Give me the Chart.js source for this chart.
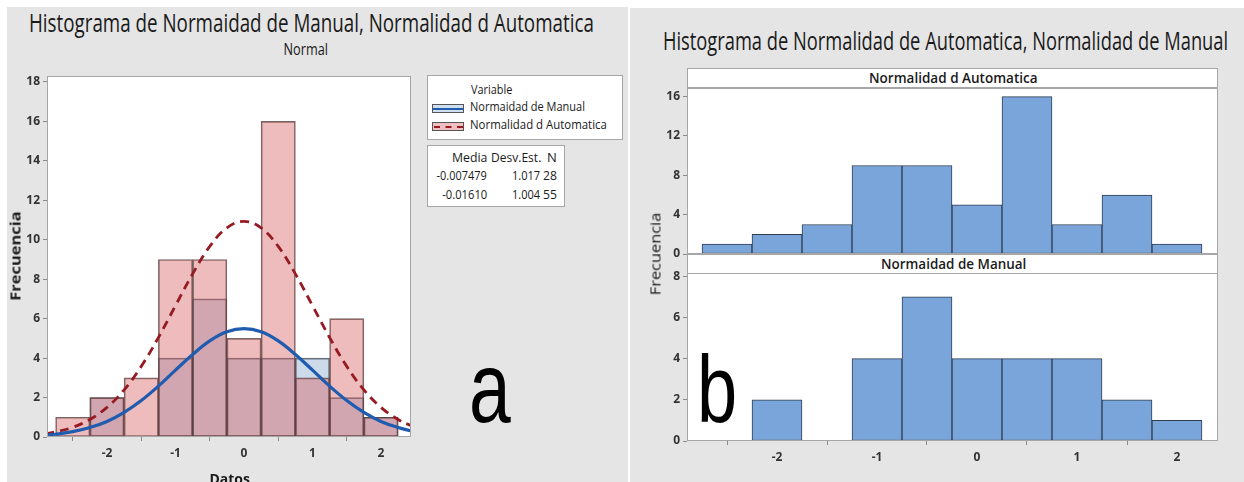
<!DOCTYPE html>
<html>
<head>
<meta charset="utf-8">
<script src="https://cdn.jsdelivr.net/npm/chart.js@4.4.1/dist/chart.umd.min.js"></script>
<style>
  html, body { margin: 0; padding: 0; }
  body { width: 1244px; height: 482px; position: relative; overflow: hidden; background: #fff; }
  .panel { position: absolute; background: #e5e5e5; }
  canvas { position: absolute; }
  .txt { position: absolute; white-space: nowrap; }
  .box { position: absolute; background: #fff; border: 1px solid #a6a6a6; box-sizing: border-box; }
  .patch { position: absolute; border: 1px solid #555; box-sizing: border-box; }
</style>
</head>
<body>
<div class="panel" style="left:7px; top:7px; width:621px; height:475px;"></div>
<div class="panel" style="left:630px; top:8px; width:614px; height:474px;"></div>

<canvas id="leftChart" width="420" height="422" style="left:0; top:60px;"></canvas>
<canvas id="autoChart" width="600" height="210" style="left:630px; top:60px;"></canvas>
<canvas id="manualChart" width="600" height="232" style="left:630px; top:250px;"></canvas>

<script>
/* ============================================
   HISTOGRAMS: NORMALIDAD MANUAL VS AUTOMATICA
   ============================================ */

// Bin centres (bins are 0.5 wide)
const binCenters = [-2.5, -2.0, -1.5, -1.0, -0.5, 0.0, 0.5, 1.0, 1.5, 2.0];
const autoCounts = [1, 2, 3, 9, 9, 5, 16, 3, 6, 1];
const manualCounts = [0, 2, 0, 4, 7, 4, 4, 4, 2, 1];

// Fitted normal curves
const curveX = [-2.9, -2.75, -2.5, -2.25, -2, -1.75, -1.5, -1.25, -1, -0.75, -0.5, -0.25, 0, 0.25, 0.5, 0.75, 1, 1.25, 1.5, 1.75, 2, 2.25, 2.45];
const manualCurve = [0.09, 0.14, 0.27, 0.48, 0.79, 1.25, 1.85, 2.58, 3.39, 4.18, 4.87, 5.33, 5.49, 5.33, 4.87, 4.18, 3.39, 2.58, 1.85, 1.25, 0.79, 0.48, 0.30];
const autoCurve = [0.17, 0.26, 0.49, 0.89, 1.50, 2.39, 3.58, 5.04, 6.66, 8.27, 9.66, 10.60, 10.93, 10.60, 9.66, 8.27, 6.66, 5.04, 3.58, 2.39, 1.50, 0.89, 0.56];

// Tick labels
const xTicks = [-2, -1, 0, 1, 2];
const leftYTicks = [0, 2, 4, 6, 8, 10, 12, 14, 16, 18];
const autoYTicks = [0, 4, 8, 12, 16];
const manualYTicks = [0, 2, 4, 6, 8];

// Legend statistics table
const statMedia = ['-0.007479', '-0.01610'];
const statSd = ['1.017', '1.004'];
const statN = ['28', '55'];

Chart.defaults.font.family = "'Open Sans', sans-serif";
Chart.defaults.animation = false;

// White plot background and grey frame round the chart area
const framePlugin = {
  id: 'frame',
  beforeDatasetsDraw(chart) {
    const a = chart.chartArea;
    chart.ctx.save();
    chart.ctx.fillStyle = '#fff';
    chart.ctx.fillRect(a.left, a.top, a.width, a.height);
    chart.ctx.restore();
  },
  afterDatasetsDraw(chart) {
    const a = chart.chartArea;
    const ctx = chart.ctx;
    ctx.save();
    ctx.strokeStyle = '#a6a6a6';
    ctx.lineWidth = 1;
    ctx.strokeRect(Math.round(a.left) + 0.5, Math.round(a.top) + 0.5, Math.round(a.width) - 1, Math.round(a.height) - 1);
    ctx.restore();
  }
};

const tickFont = { size: 12, weight: '700' };
const tickMarks = { drawOnChartArea: false, drawTicks: true, tickLength: 4, color: '#8a8a8a' };

function pts(xs, ys) {
  return xs.map((x, i) => ({ x: x, y: ys[i] }));
}

function xScale(min, max, height, show) {
  return {
    type: 'linear', min: min, max: max, offset: false, display: show,
    afterBuildTicks: s => { s.ticks = xTicks.map(v => ({ value: v })); },
    afterFit: s => { if (height) s.height = height; },
    grid: tickMarks, border: { display: false },
    ticks: { color: '#333', font: tickFont, padding: 5, maxRotation: 0 }
  };
}

function yScale(max, ticks, width) {
  return {
    min: 0, max: max,
    afterBuildTicks: s => { s.ticks = ticks.map(v => ({ value: v })); },
    afterFit: s => { s.width = width; },
    grid: tickMarks, border: { display: false },
    ticks: { color: '#333', font: tickFont, padding: 3 }
  };
}

function barSet(label, counts, fill, border, order) {
  return {
    type: 'bar', label: label, data: pts(binCenters, counts),
    backgroundColor: fill, borderColor: border, borderWidth: 1, borderSkipped: false,
    grouped: false, barPercentage: 1, categoryPercentage: 1, order: order
  };
}

// a) overlaid histograms with normal fits
new Chart(document.getElementById('leftChart'), {
  type: 'bar',
  data: {
    datasets: [
      barSet('Normaidad de Manual', manualCounts, 'rgba(100,140,190,0.32)', 'rgba(70,70,80,0.8)', 4),
      barSet('Normalidad d Automatica', autoCounts, 'rgba(215,95,95,0.42)', 'rgba(80,65,65,0.8)', 3),
      {
        type: 'line', label: 'Normaidad de Manual', data: pts(curveX, manualCurve),
        borderColor: '#1f5cb0', borderWidth: 3.2, pointRadius: 0, tension: 0.4, order: 1
      },
      {
        type: 'line', label: 'Normalidad d Automatica', data: pts(curveX, autoCurve),
        borderColor: '#961a22', borderWidth: 2.8, borderDash: [9, 6], pointRadius: 0, tension: 0.4, order: 2
      }
    ]
  },
  options: {
    responsive: false,
    layout: { padding: { left: 0, right: 9, top: 16, bottom: 0 } },
    plugins: { legend: { display: false }, tooltip: { enabled: false } },
    scales: {
      x: xScale(-2.876, 2.438, 45, true),
      y: yScale(18.3, leftYTicks, 47)
    }
  },
  plugins: [framePlugin]
});

// b) panel histograms
new Chart(document.getElementById('autoChart'), {
  type: 'bar',
  data: { datasets: [barSet('Normalidad d Automatica', autoCounts, '#7aa5da', '#2f3d4f', 1)] },
  options: {
    responsive: false,
    layout: { padding: { left: 0, right: 12, top: 28, bottom: 16 } },
    plugins: { legend: { display: false }, tooltip: { enabled: false } },
    scales: { x: xScale(-2.90, 2.41, 0, false), y: yScale(16.88, autoYTicks, 57) }
  },
  plugins: [framePlugin]
});

new Chart(document.getElementById('manualChart'), {
  type: 'bar',
  data: { datasets: [barSet('Normaidad de Manual', manualCounts, '#7aa5da', '#2f3d4f', 1)] },
  options: {
    responsive: false,
    layout: { padding: { left: 0, right: 12, top: 23, bottom: 0 } },
    plugins: { legend: { display: false }, tooltip: { enabled: false } },
    scales: { x: xScale(-2.90, 2.41, 41, true), y: yScale(8.15, manualYTicks, 57) }
  },
  plugins: [framePlugin]
});

// Text helpers (squeezed horizontally to the reference widths)
function addText(txt, o) {
  const d = document.createElement('div');
  d.className = 'txt';
  d.textContent = txt;
  d.style.font = `${o.weight || 400} ${o.fs}px ${o.family || "'Open Sans', sans-serif"}`;
  d.style.lineHeight = o.fs + 'px';
  d.style.color = o.color || '#1a1a1a';
  document.body.appendChild(d);
  const w = d.offsetWidth;
  const k = o.w ? o.w / w : (o.sx || 1);
  let left = o.x;
  if (o.align === 'center') left = o.x - w / 2;
  if (o.align === 'right') left = o.x - w;
  d.style.left = left + 'px';
  d.style.top = (o.base - (o.asc || 0.888) * o.fs) + 'px';
  d.style.transformOrigin = o.align === 'center' ? '50% 50%' : (o.align === 'right' ? '100% 50%' : '0 50%');
  d.style.transform = `scaleX(${k})`;
  return d;
}

function addVText(txt, o) {
  const d = document.createElement('div');
  d.className = 'txt';
  d.textContent = txt;
  d.style.font = `${o.weight || 400} ${o.fs}px 'Open Sans', sans-serif`;
  d.style.lineHeight = o.fs + 'px';
  d.style.color = '#1a1a1a';
  document.body.appendChild(d);
  const k = o.len / d.offsetWidth;
  d.style.left = o.cx + 'px';
  d.style.top = o.cy + 'px';
  d.style.transform = `translate(-50%, -50%) rotate(-90deg) scaleX(${k})`;
}

function addBox(cls, x, y, w, h, extra) {
  const d = document.createElement('div');
  d.className = cls;
  d.style.cssText += `left:${x}px; top:${y}px; width:${w}px; height:${h}px;` + (extra || '');
  document.body.appendChild(d);
  return d;
}

// Titles
addText('Histograma de Normaidad de Manual, Normalidad d Automatica', { x: 29, base: 32, fs: 25, w: 565 });
addText('Normal', { x: 305, base: 55, fs: 17, w: 44, align: 'center' });
addText('Histograma de Normalidad de Automatica, Normalidad de Manual', { x: 663, base: 50, fs: 25, w: 565 });

// Axis titles
addText('Datos', { x: 229, base: 484, fs: 15, weight: 700, w: 40, align: 'center' });
addVText('Frecuencia', { cx: 15, cy: 256, fs: 15, weight: 700, len: 90 });
addVText('Frecuencia', { cx: 655, cy: 254, fs: 15, weight: 400, len: 83 });

// Panel strips on the right
addBox('box', 687, 68, 531, 20);
addText('Normalidad d Automatica', { x: 953, base: 83, fs: 14, weight: 600, w: 169, align: 'center' });
addBox('box', 687, 254, 531, 20);
addText('Normaidad de Manual', { x: 953, base: 269, fs: 14, weight: 600, w: 145, align: 'center' });

// Legend: variables
addBox('box', 427, 75, 196, 65);
addText('Variable', { x: 471, base: 95, fs: 13, w: 41 });
const p1 = addBox('patch', 432, 104, 32, 9, 'background:#cfe0f0;');
p1.innerHTML = '<div style="position:absolute;left:0;right:0;top:2.5px;height:2.5px;background:#1f5cb0"></div>';
addText('Normaidad de Manual', { x: 470, base: 112, fs: 13, w: 115 });
const p2 = addBox('patch', 432, 122, 32, 9, 'background:#f0c0c0;');
p2.innerHTML = '<div style="position:absolute;left:1px;right:0;top:2.5px;border-top:2.5px dashed #961a22"></div>';
addText('Normalidad d Automatica', { x: 470, base: 130, fs: 13, w: 137 });

// Legend: statistics table
addBox('box', 427, 145, 138, 62);
addText('Media', { x: 487, base: 163, fs: 13, w: 35, align: 'right' });
addText('Desv.Est.', { x: 541, base: 163, fs: 13, w: 50, align: 'right' });
addText('N', { x: 557, base: 163, fs: 13, align: 'right' });
const rowBase = [181, 200];
statMedia.forEach((m, i) => {
  addText(m, { x: 487, base: rowBase[i], fs: 13, w: m.length * 5.6, align: 'right' });
  addText(statSd[i], { x: 540, base: rowBase[i], fs: 13, w: 28, align: 'right' });
  addText(statN[i], { x: 557, base: rowBase[i], fs: 13, w: 14, align: 'right' });
});

// Panel letters
addText('a', { x: 469, base: 422, fs: 100, sx: 0.75, color: '#000', family: "'Liberation Sans', Arial, sans-serif", asc: 0.8465 });
addText('b', { x: 697, base: 422, fs: 95, sx: 0.76, color: '#000', family: "'Liberation Sans', Arial, sans-serif", asc: 0.8465 });
</script>
</body>
</html>
